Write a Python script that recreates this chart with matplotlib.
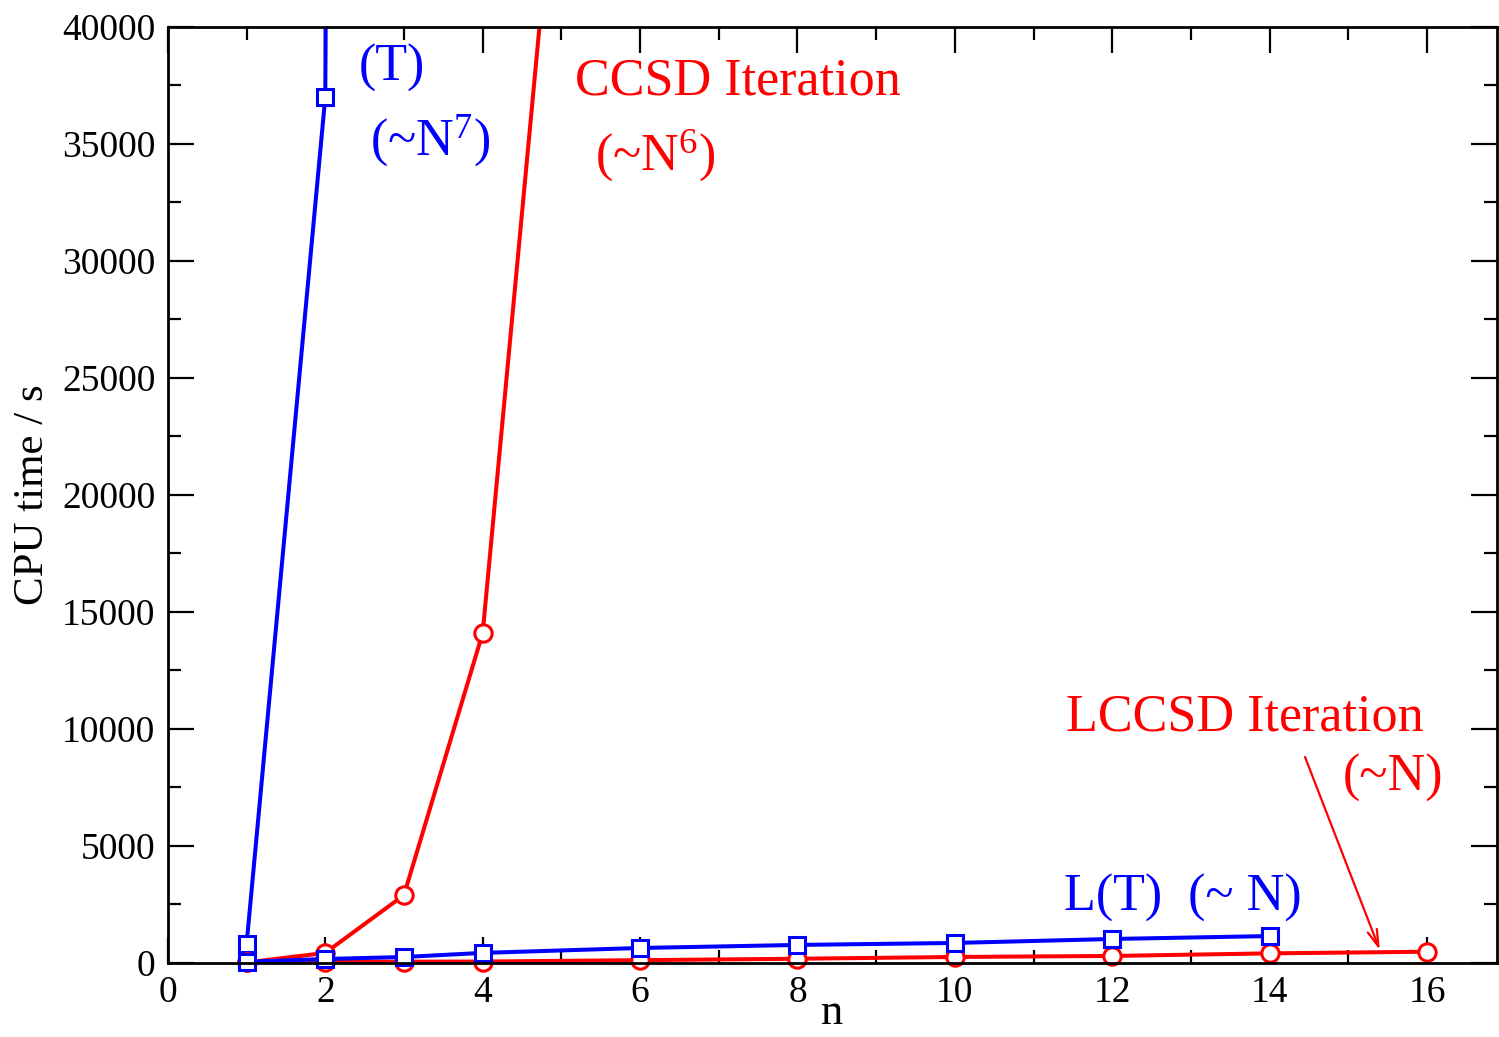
import matplotlib
matplotlib.use("Agg")
import matplotlib.pyplot as plt
from matplotlib.ticker import MultipleLocator

plt.rcParams['font.family'] = ['Liberation Serif', 'DejaVu Serif']
plt.rcParams['mathtext.fontset'] = 'custom'
plt.rcParams['mathtext.rm'] = 'Liberation Serif'
plt.rcParams['mathtext.it'] = 'Liberation Serif'

# (T) triples, canonical ~N^7 (last point runs off the top)
t_n = [1, 2, 3]
t_time = [800, 37000, 640000]

# CCSD iteration ~N^6
ccsd_n = [1, 2, 3, 4, 5]
ccsd_time = [20, 430, 2900, 14100, 50000]

# local (T) ~N
lt_n = [1, 2, 3, 4, 6, 8, 10, 12, 14]
lt_time = [50, 170, 255, 430, 640, 770, 855, 1025, 1150]

# LCCSD iteration ~N
lccsd_n = [1, 2, 3, 4, 6, 8, 10, 12, 14, 16]
lccsd_time = [20, 50, 55, 60, 120, 180, 256, 300, 410, 480]

blue = '#0000ff'
red = '#ff0000'
ymax = 40000

fig = plt.figure(figsize=(14.99, 10.37), dpi=100)
ax = fig.add_axes([0.112, 0.0714, 0.8867, 0.9026])

series = [(t_n, t_time, blue, 's', 11),
          (ccsd_n, ccsd_time, red, 'o', 12.5),
          (lccsd_n, lccsd_time, red, 'o', 12.5),
          (lt_n, lt_time, blue, 's', 11)]

for xs, ys, c, m, ms in series:
    # lines are clipped at the frame, symbols are not (grace style)
    ax.plot(xs, ys, color=c, lw=2.9)
    keep = [(x, y) for x, y in zip(xs, ys) if y <= ymax]
    ax.plot([k[0] for k in keep], [k[1] for k in keep], ls='none', marker=m,
            ms=ms, mew=2.2, mec=c, mfc='white', clip_on=False)

ax.set_xlim(0, 16.89)
ax.set_ylim(0, ymax)
ax.xaxis.set_major_locator(MultipleLocator(2))
ax.xaxis.set_minor_locator(MultipleLocator(1))
ax.yaxis.set_major_locator(MultipleLocator(5000))
ax.yaxis.set_minor_locator(MultipleLocator(2500))

ax.tick_params(which='both', direction='in', top=True, right=True,
               width=1.6, labelsize=27, pad=9)
ax.tick_params(which='major', length=18.5)
ax.tick_params(which='minor', length=9.5)
for s in ax.spines.values():
    s.set_linewidth(2.0)

ax.set_xlabel('n', fontsize=32, labelpad=-12)
ax.set_ylabel('CPU time / s', fontsize=31, labelpad=7)

txt = dict(fontsize=37.5, ha='center', va='center')
ax.text(2.85, 38250, '(T)', color=blue, **txt)
ax.text(3.33, 35170, '(~N$^{7}$)', color=blue, **txt)
ax.text(7.24, 37650, 'CCSD Iteration', color=red, **txt)
ax.text(6.19, 34530, '(~N$^{6}$)', color=red, **txt)
ax.text(13.68, 10510, 'LCCSD Iteration', color=red, **txt)
ax.text(15.57, 7900, '(~N)', color=red, **txt)
ax.text(12.9, 2780, 'L(T)  (~ N)', color=blue, **txt)

ax.annotate('', xy=(15.40, 555), xytext=(14.45, 8800),
            arrowprops=dict(arrowstyle='->,head_length=1.2,head_width=0.35',
                            color=red, lw=1.6, shrinkA=0, shrinkB=0))

fig.savefig('out.png', dpi=100)
